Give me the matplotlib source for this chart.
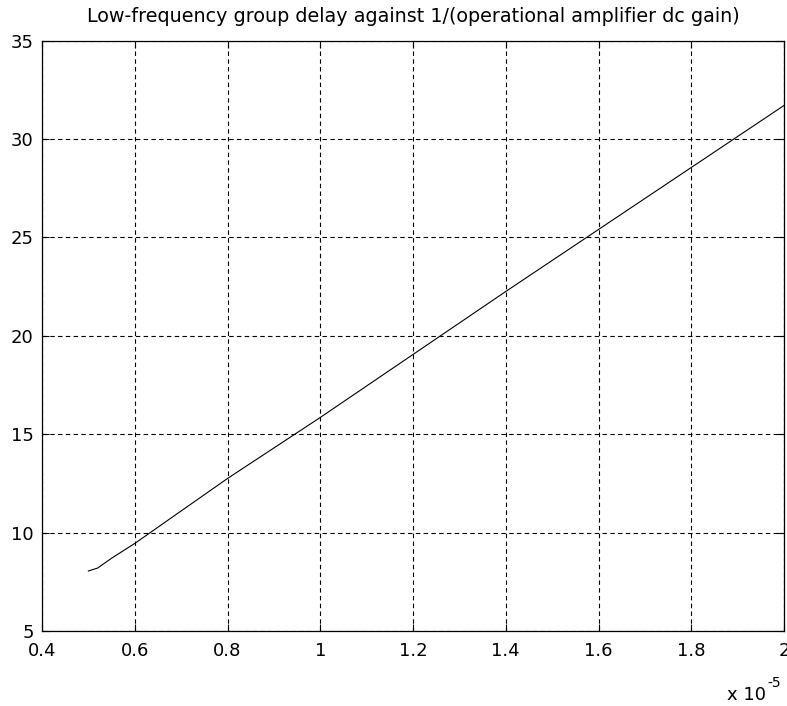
import numpy as np
import matplotlib.pyplot as plt

# 1/(op-amp dc gain), in units of 1e-5
inv_gain = [0.50, 0.52, 0.55, 0.60, 0.70, 0.80, 0.90, 1.00, 1.20, 1.40, 1.60, 1.80, 2.00]
# low-frequency group delay
delay = [8.05, 8.20, 8.70, 9.45, 11.10, 12.75, 14.30, 15.85, 19.05, 22.25, 25.40, 28.55, 31.70]

xticks = [0.4, 0.6, 0.8, 1.0, 1.2, 1.4, 1.6, 1.8, 2.0]
xticklabels = ['0.4', '0.6', '0.8', '1', '1.2', '1.4', '1.6', '1.8', '2']
yticks = [5, 10, 15, 20, 25, 30, 35]

plt.rcParams['font.family'] = ['DejaVu Sans']

fig = plt.figure(figsize=(7.87, 7.06), dpi=100)
ax = fig.add_axes([0.0534, 0.1062, 0.9428, 0.8364])

ax.plot(inv_gain, delay, color='black', linewidth=0.8)

ax.set_xlim(0.4, 2.0)
ax.set_ylim(5, 35)
ax.set_xticks(xticks)
ax.set_xticklabels(xticklabels)
ax.set_yticks(yticks)
ax.tick_params(direction='in', length=5, width=0.8, labelsize=13,
               top=True, right=True)
ax.tick_params(axis='x', pad=8)
ax.tick_params(axis='y', pad=6)
ax.grid(True, color='black', linestyle=(0, (4, 3)), linewidth=0.8)
for s in ax.spines.values():
    s.set_linewidth(0.9)

ax.set_title('Low-frequency group delay against 1/(operational amplifier dc gain)',
             fontsize=13.8, pad=13)
fig.text(0.973, 0.003, 'x 10', ha='right', va='bottom', fontsize=13)
fig.text(0.975, 0.022, '-5', ha='left', va='bottom', fontsize=10)

fig.savefig('out.png', dpi=100)
